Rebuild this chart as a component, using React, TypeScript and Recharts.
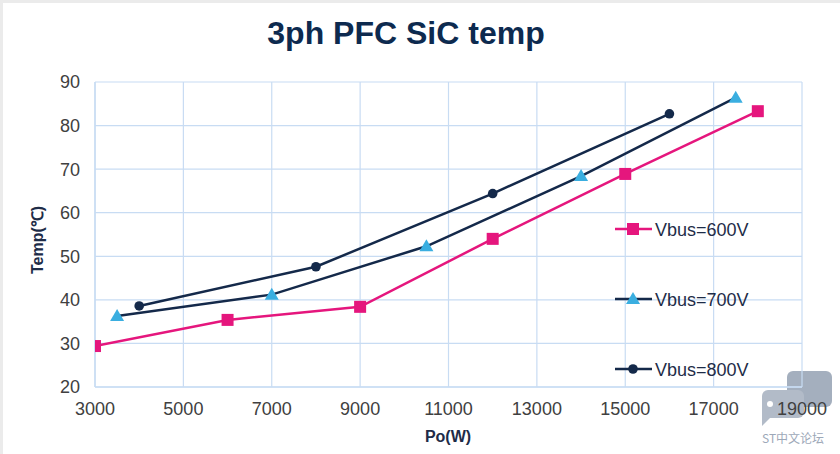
import React from "react";
import { LineChart, Line, XAxis, YAxis, CartesianGrid } from "recharts";

const power600 = [3000, 6000, 9000, 12000, 15000, 18000];
const temp600 = [29.4, 35.4, 38.4, 54.0, 68.9, 83.3];
const power700 = [3500, 7000, 10500, 14000, 17500];
const temp700 = [36.3, 41.2, 52.3, 68.4, 86.4];
const power800 = [4000, 8000, 12000, 16000];
const temp800 = [38.6, 47.6, 64.4, 82.7];

const xTicks = [3000, 5000, 7000, 9000, 11000, 13000, 15000, 17000, 19000];
const yTicks = [20, 30, 40, 50, 60, 70, 80, 90];

const seriesNames = ["Vbus=600V", "Vbus=700V", "Vbus=800V"];
const chartTitle = "3ph PFC SiC temp";
const xTitle = "Po(W)";
const yTitle = "Temp(℃)";

const toRows = (xs: number[], ys: number[]) => xs.map((x, i) => ({ x, y: ys[i] }));
const data600 = toRows(power600, temp600);
const data700 = toRows(power700, temp700);
const data800 = toRows(power800, temp800);

const PINK = "#E5167D";
const NAVY = "#14294A";
const SKY = "#3AAEE0";
const GRID = "#C8DCF3";
const FONT = "'Liberation Sans', Arial, sans-serif";

const SquareDot = (p: any) => {
  const { cx, cy } = p;
  if (cx == null || cy == null) return null;
  return <rect key={`s${cx}`} x={cx - 6} y={cy - 6} width={12} height={12} fill={PINK} />;
};
const TriDot = (p: any) => {
  const { cx, cy } = p;
  if (cx == null || cy == null) return null;
  return (
    <polygon
      key={`t${cx}`}
      points={`${cx},${cy - 7} ${cx + 7},${cy + 5} ${cx - 7},${cy + 5}`}
      fill={SKY}
    />
  );
};
const CircDot = (p: any) => {
  const { cx, cy } = p;
  if (cx == null || cy == null) return null;
  return <circle key={`c${cx}`} cx={cx} cy={cy} r={4.8} fill={NAVY} />;
};

const LegendBox = ({ x, y0 }: { x: number; y0: number }) => {
  const rows = [
    { name: seriesNames[0], color: PINK, kind: "sq" },
    { name: seriesNames[1], color: NAVY, kind: "tri" },
    { name: seriesNames[2], color: NAVY, kind: "dot" },
  ];
  return (
    <g transform={`translate(${x},${y0})`}>
      {rows.map((r, i) => {
        const y = i * 70;
        return (
          <g key={r.name}>
            <line x1={0} x2={37} y1={y} y2={y} stroke={r.color} strokeWidth={2.5} />
            {r.kind === "sq" && <rect x={12} y={y - 6} width={12} height={12} fill={PINK} />}
            {r.kind === "tri" && (
              <polygon points={`${18},${y - 7} ${25},${y + 5} ${11},${y + 5}`} fill={SKY} />
            )}
            {r.kind === "dot" && <circle cx={18} cy={y} r={4.8} fill={NAVY} />}
            <text x={40} y={y + 6.5} fontSize={18} fontFamily={FONT} fill="#1E2C48">
              {r.name}
            </text>
          </g>
        );
      })}
    </g>
  );
};

export default function App() {
  return (
    <div
      style={{
        position: "absolute",
        left: 0,
        top: 0,
        width: 840,
        height: 454,
        background: "#ffffff",
        overflow: "hidden",
      }}
    >
      <div style={{ position: "absolute", left: 0, top: 0, width: 840, height: 3, background: "#EBEBEB" }} />
      <div style={{ position: "absolute", left: 0, top: 0, width: 3, height: 454, background: "#EBEBEB" }} />
      <svg
        width={840}
        height={454}
        style={{ position: "absolute", left: 0, top: 0, pointerEvents: "none" }}
      >
        <rect x={787} y={371} width={45} height={36} rx={6} fill="#A4AFBE" />
        <rect x={762} y={390} width={42} height={28} rx={6} fill="#B2BBC8" />
        <polygon points="762,410 770,418 762,426" fill="#B2BBC8" />
        <circle cx={770} cy={404} r={3} fill="#ffffff" />
        <text x={762} y={443} fontSize={12} fontFamily="'Noto Sans CJK SC', sans-serif" fill="#9DA8B8">
          ST中文论坛
        </text>
      </svg>
      <div style={{ position: "absolute", left: 0, top: 0 }}>
        <LineChart
          width={840}
          height={454}
          margin={{ top: 82, right: 38, bottom: 0, left: 0 }}
          style={{ fontFamily: FONT }}
        >
          <CartesianGrid stroke={GRID} strokeWidth={1.2} horizontalValues={yTicks} verticalValues={xTicks} />
          <XAxis
            type="number"
            dataKey="x"
            domain={[3000, 19000]}
            ticks={xTicks}
            height={67}
            tickLine={false}
            tickSize={0}
            tickMargin={15}
            axisLine={{ stroke: GRID, strokeWidth: 1.5 }}
            tick={{ fontSize: 18, fill: "#404040", fontFamily: FONT }}
            allowDataOverflow
            interval={0}
          />
          <YAxis
            type="number"
            dataKey="y"
            domain={[20, 90]}
            ticks={yTicks}
            width={95}
            tickLine={false}
            tickSize={0}
            tickMargin={15}
            axisLine={{ stroke: GRID, strokeWidth: 1.5 }}
            tick={{ fontSize: 18, fill: "#404040", fontFamily: FONT }}
            interval={0}
          />
          <Line
            data={data600}
            dataKey="y"
            name={seriesNames[0]}
            type="linear"
            stroke={PINK}
            strokeWidth={2.5}
            dot={SquareDot}
            activeDot={false}
            isAnimationActive={false}
          />
          <Line
            data={data700}
            dataKey="y"
            name={seriesNames[1]}
            type="linear"
            stroke={NAVY}
            strokeWidth={2.5}
            dot={TriDot}
            activeDot={false}
            isAnimationActive={false}
          />
          <Line
            data={data800}
            dataKey="y"
            name={seriesNames[2]}
            type="linear"
            stroke={NAVY}
            strokeWidth={2.5}
            dot={CircDot}
            activeDot={false}
            isAnimationActive={false}
          />
        </LineChart>
      </div>
      <svg
        width={840}
        height={454}
        style={{ position: "absolute", left: 0, top: 0, pointerEvents: "none" }}
      >
        <text x={406} y={44} textAnchor="middle" fontSize={32} fontWeight="bold" fontFamily={FONT} fill="#0D2A4F">
          {chartTitle}
        </text>
        <LegendBox x={615} y0={229} />
        <text x={448} y={442} textAnchor="middle" fontSize={16} fontWeight="bold" fontFamily={FONT} fill="#1E2C48">
          {xTitle}
        </text>
        <text
          x={0}
          y={0}
          transform="translate(43,240) rotate(-90)"
          textAnchor="middle"
          fontSize={16}
          fontWeight="bold"
          fontFamily={FONT}
          fill="#1E2C48"
        >
          {yTitle}
        </text>
      </svg>
    </div>
  );
}
